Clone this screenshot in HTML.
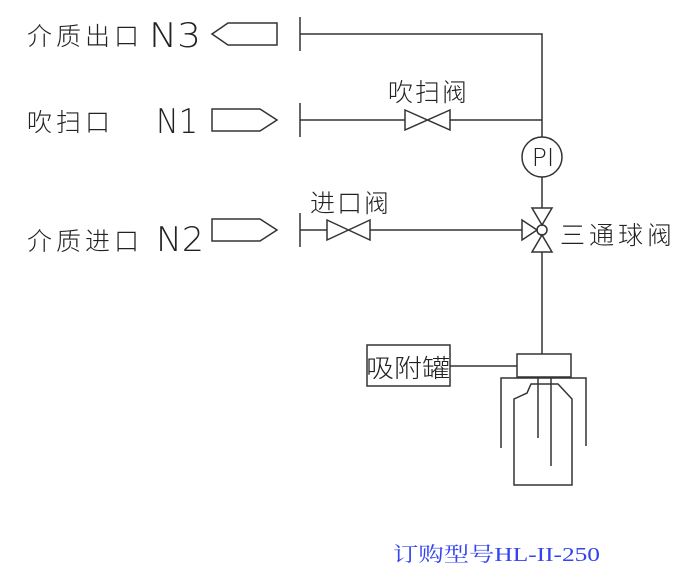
<!DOCTYPE html>
<html><head><meta charset="utf-8"><style>
body{margin:0;background:#fff}
svg{display:block}
.t{font-family:"Liberation Sans","Noto Sans CJK SC",sans-serif;font-size:25px;fill:#222;font-weight:300}
.n{font-family:"DejaVu Sans ExtraLight","DejaVu Sans","Liberation Sans",sans-serif;font-size:34px;fill:#222;font-weight:200}
</style></head><body>
<svg width="700" height="580" viewBox="0 0 700 580" xmlns="http://www.w3.org/2000/svg">
<g fill="none" stroke="#333" stroke-width="1.5">
<polygon points="212,34 228,23 277,23 277,45 228,45"/>
<line x1="300" y1="17" x2="300" y2="51"/>
<polyline points="300,34 542,34 542,137"/>
<polygon points="212,109 260,109 277,120 260,131 212,131"/>
<line x1="300" y1="103" x2="300" y2="137"/>
<line x1="300" y1="120" x2="405" y2="120"/>
<polygon points="405,110 450,130 450,110 405,130"/>
<line x1="450" y1="120" x2="542" y2="120"/>
<circle cx="542" cy="157" r="20"/>
<line x1="542" y1="177" x2="542" y2="208"/>
<polygon points="532,208 552,208 542,225"/>
<polygon points="532,252 552,252 542,235"/>
<polygon points="522,220 522,240 537,230"/>
<circle cx="542" cy="230" r="5"/>
<polygon points="212,219 260,219 277,230 260,241 212,241"/>
<line x1="300" y1="213" x2="300" y2="247"/>
<line x1="300" y1="230" x2="327" y2="230"/>
<polygon points="327,220 370,240 370,220 327,240"/>
<line x1="370" y1="230" x2="522" y2="230"/>
<line x1="542" y1="252" x2="542" y2="354"/>
<rect x="367" y="345" width="83" height="41"/>
<line x1="450" y1="366" x2="517" y2="366"/>
<rect x="517" y="354" width="54" height="23"/>
<polyline points="501,448 501,378 586,378 586,446"/>
<polygon points="514,399 527,393 531,384 558,384 572,399 572,485 514,485"/>
<line x1="538" y1="378" x2="538" y2="438"/>
<line x1="551" y1="378" x2="551" y2="466"/>
</g>
<text class="t" x="27" y="45" letter-spacing="4">介质出口</text>
<text class="n" x="149" y="47" textLength="52" lengthAdjust="spacingAndGlyphs">N3</text>
<text class="t" x="27" y="131" letter-spacing="4">吹扫口</text>
<text class="n" x="156" y="133" textLength="42" lengthAdjust="spacingAndGlyphs">N1</text>
<text class="t" x="27" y="250" letter-spacing="4">介质进口</text>
<text class="n" x="156" y="251" textLength="48" lengthAdjust="spacingAndGlyphs">N2</text>
<text class="t" x="388" y="101" letter-spacing="2">吹扫阀</text>
<text class="t" x="310" y="212" letter-spacing="2">进口阀</text>
<text class="t" x="560" y="244" letter-spacing="4">三通球阀</text>
<text x="543" y="166" font-family="DejaVu Sans ExtraLight,DejaVu Sans,sans-serif" font-size="25" fill="#222" text-anchor="middle" font-weight="200">PI</text>
<text class="t" x="366" y="377" font-size="27" textLength="84" lengthAdjust="spacingAndGlyphs">吸附罐</text>
<text x="393" y="561" font-family="Liberation Serif,'Noto Serif CJK SC',serif" font-size="20" fill="#3344ee" textLength="207" lengthAdjust="spacingAndGlyphs">订购型号HL-II-250</text>
</svg>
</body></html>
